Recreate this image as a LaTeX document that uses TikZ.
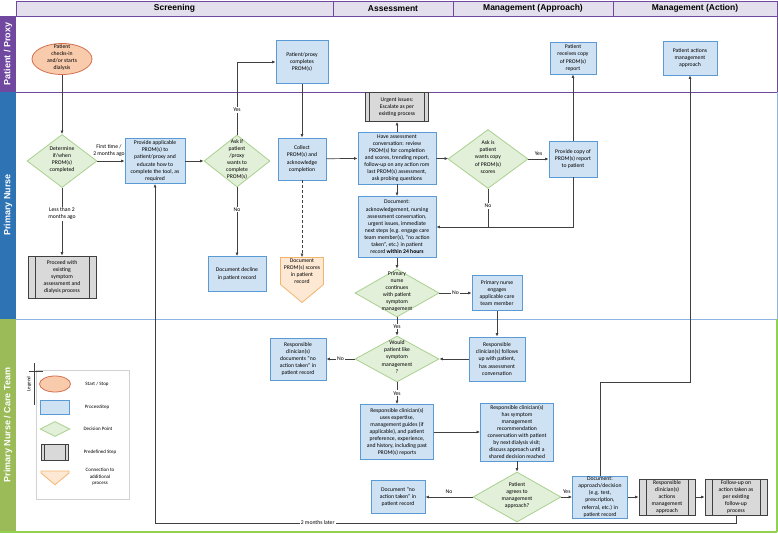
\documentclass[tikz,border=0pt]{standalone}
\usepackage{fontspec}
\setmainfont{Carlito}
\newfontfamily\lanefont{Liberation Sans}
\usetikzlibrary{shapes.geometric}
\usetikzlibrary{shapes.symbols}
\usetikzlibrary{arrows.meta}

\definecolor{procfill}{HTML}{CFE2F3}
\definecolor{procline}{HTML}{5B9BD5}
\definecolor{decfill}{HTML}{E2EFD9}
\definecolor{decline}{HTML}{A9D18E}
\definecolor{predfill}{HTML}{D9D9D9}
\definecolor{predline}{HTML}{404040}
\definecolor{termfill}{HTML}{F8CBAD}
\definecolor{termline}{HTML}{D5704F}
\definecolor{connfill}{HTML}{FDE9D3}
\definecolor{connline}{HTML}{F4B470}
\definecolor{headfill}{HTML}{E4DFEC}
\definecolor{purpleband}{HTML}{7048A0}
\definecolor{blueband}{HTML}{2E74B5}
\definecolor{greenband}{HTML}{9BBB59}
\definecolor{greenline}{HTML}{92D050}
\definecolor{blueline}{HTML}{8DB4E2}
\definecolor{arrowgray}{HTML}{404040}

\newcommand\dtext[1]{\smash{\begin{tabular}{@{}c@{}}#1\end{tabular}}}

\begin{document}
\begin{tikzpicture}[x=1pt,y=-1pt,
        font=\fontsize{5.7}{7.1}\selectfont,
        proc/.style={rectangle,draw=procline,fill=procfill,line width=0.8pt,align=center,inner sep=1pt},
        dec/.style={diamond,draw=decline,fill=decfill,line width=0.8pt,inner sep=0pt},
        predef/.style={rectangle,draw=predline,fill=predfill,line width=0.8pt,align=center,inner sep=1pt,
            path picture={\draw[predline,line width=0.8pt]
                ([xshift=#1]path picture bounding box.north west) -- ([xshift=#1]path picture bounding box.south west)
                ([xshift=-#1]path picture bounding box.north east) -- ([xshift=-#1]path picture bounding box.south east);}},
        predef/.default=6pt,
        term/.style={ellipse,draw=termline,fill=termfill,line width=0.8pt,inner sep=0pt},
        conn/.style={signal,signal to=south,signal pointer angle=100,draw=connline,fill=connfill,line width=0.8pt,align=center,inner sep=1pt},
        flow/.style={draw=arrowgray,line width=0.7pt,-{Latex[length=3.5pt,width=3pt]}},
        plain/.style={draw=arrowgray,line width=0.7pt},
        lbl/.style={fill=white,inner sep=1pt,align=center},
        head/.style={rectangle,draw=purpleband,fill=headfill,line width=0.8pt,minimum height=15,
            font=\lanefont\bfseries\fontsize{8.5}{10}\selectfont},
        lane/.style={text=white,rotate=90,inner sep=0pt,font=\lanefont\bfseries\fontsize{9}{10}\selectfont},
        legtext/.style={font=\fontsize{5}{6.5}\selectfont,align=center}
    ]

    \useasboundingbox (0,0) rectangle (778,534);
    \fill[white] (0,0) rectangle (778,534);

    % lanes
    \fill[purpleband] (0,16) rectangle (16,92);
    \fill[blueband] (0,92) rectangle (16,319);
    \fill[greenband] (0,319) rectangle (16,532);
    \node[lane] (lane1) at (8,54) {Patient / Proxy};
    \node[lane] (lane2) at (8,205) {Primary Nurse};
    \node[lane] (lane3) at (8,425) {Primary Nurse / Care Team};
    \draw[purpleband,line width=0.8pt] (16,92) -- (777,92) (777,16) -- (777,92);
    \draw[blueline,line width=0.8pt] (16,319) -- (777,319) (777,92) -- (777,319);
    \draw[greenline,line width=1.2pt] (0,532) -- (777,532) (777,319) -- (777,532);

    % phases
    \node[head,minimum width=317] (h1) at (174.5,8.5) {Screening};
    \node[head,minimum width=120] (h2) at (393,8.5) {Assessment};
    \node[head,minimum width=160] (h3) at (533,8.5) {Management (Approach)};
    \node[head,minimum width=164] (h4) at (695,8.5) {Management (Action)};

    % screening
    \node[term,minimum width=60,minimum height=31] (start) at (62,59) {\dtext{Patient\\checks-in\\and/or starts\\dialysis}};
    \node[dec,minimum width=70,minimum height=53] (d1) at (62,161) {\dtext{Determine\\if/when\\PROM(s)\\completed}};
    \node[predef=7pt,minimum width=68,minimum height=42] (pre1) at (62,277) {Proceed with\\existing\\symptom\\assessment and\\dialysis process};
    \node[proc,minimum width=60,minimum height=45] (p1) at (155,161) {Provide applicable\\PROM(s) to\\patient/proxy and\\educate how to\\complete the tool, as\\required};
    \node[dec,minimum width=66,minimum height=52] (d2) at (237,161) {\dtext{Ask if\\patient\\/proxy\\wants to\\complete\\PROM(s)}};
    \node[proc,minimum width=52,minimum height=43] (p2) at (302,62) {Patient/proxy\\completes\\PROM(s)};
    \node[proc,minimum width=58,minimum height=35] (decl) at (237,274) {Document decline\\in patient record};
    \node[proc,minimum width=48,minimum height=42] (p3) at (302,159) {Collect\\PROM(s) and\\acknowledge\\completion};
    \node[conn,minimum width=43] (conn) at (302,271) {Document\\PROM(s) scores\\in patient\\record};

    % assessment
    \node[predef=4pt,minimum width=63,minimum height=29] (pre2) at (397,107) {Urgent issues:\\Escalate as per\\existing process};
    \node[proc,minimum width=78,minimum height=52] (p4) at (397,158) {Have assessment\\conversation: review\\PROM(s) for completion\\and scores, trending report,\\follow-up on any action rom\\last PROM(s) assessment,\\ask probing questions};
    \node[proc,minimum width=78,minimum height=61] (p5) at (397,227) {Document:\\acknowledgement, nursing\\assessment conversation,\\urgent issues, immediate\\next steps (e.g. engage care\\team member(s), “no action\\taken”, etc.) in patient\\record \textbf{within 24 hours}};
    \node[dec,minimum width=80,minimum height=59] (d3) at (488,159) {\dtext{Ask is\\patient\\wants copy\\of PROM(s)\\scores}};
    \node[dec,minimum width=84,minimum height=48] (d4) at (397,293) {\dtext{Primary\\nurse\\continues\\with patient\\symptom\\management}};
    \node[proc,minimum width=50,minimum height=35] (p9) at (497,293) {Primary nurse\\engages\\applicable care\\team member};
    \node[dec,minimum width=84,minimum height=46] (d5) at (397,359) {\dtext{Would\\patient like\\symptom\\management\\?}};
    \node[proc,minimum width=56,minimum height=44] (p10) at (497,359) {Responsible\\clinician(s) follows\\up with patient,\\has assessment\\conversation};
    \node[proc,minimum width=56,minimum height=42] (p11) at (298,359) {Responsible\\clinician(s)\\documents “no\\action taken” in\\patient record};
    \node[proc,minimum width=73,minimum height=55] (p12) at (397,432) {Responsible clinician(s)\\uses expertise,\\management guides (if\\applicable), and patient\\preference, experience,\\and history, including past\\PROM(s) reports};
    \node[proc,minimum width=54,minimum height=33] (p14) at (398,497) {Document “no\\action taken” in\\patient record};

    % management (approach)
    \node[proc,minimum width=48,minimum height=36] (p6) at (573,159) {Provide copy of\\PROM(s) report\\to patient};
    \node[proc,minimum width=46,minimum height=32] (p7) at (573,58) {Patient\\receives copy\\of PROM(s)\\report};
    \node[proc,minimum width=73,minimum height=58] (p13) at (517,432) {Responsible clinician(s)\\has symptom\\management\\recommendation\\conversation with patient\\by next dialysis visit;\\discuss approach until a\\shared decision reached};
    \node[dec,minimum width=88,minimum height=50] (d6) at (517,497) {\dtext{Patient\\agrees to\\management\\approach?}};
    \node[proc,minimum width=55,minimum height=42] (p15) at (600,497) {Document:\\approach/decision\\(e.g. test,\\prescription,\\referral, etc.) in\\patient record};

    % management (action)
    \node[proc,minimum width=54,minimum height=34] (p8) at (690,58) {Patient actions\\management\\approach};
    \node[predef=7pt,minimum width=56,minimum height=36] (pre3) at (667,497) {Responsible\\clinician(s)\\actions\\management\\approach};
    \node[predef=7pt,minimum width=62,minimum height=36] (pre4) at (736,497) {Follow-up on\\action taken as\\per existing\\follow-up\\process};

    % legend
    \node[draw=gray!35,line width=0.6pt,minimum width=93,minimum height=129] (legend) at (82.5,434.5) {};
    \node[legtext,rotate=90] (legendt) at (29,384) {Legend};
    \draw[arrowgray,line width=0.5pt] (34,363) -- (34,405) (29,371) -- (43,371);
    \node[term,minimum width=31,minimum height=16] (lg1) at (55,384) {};
    \node[legtext] (lt1) at (97,384) {Start / Stop};
    \node[proc,minimum width=29,minimum height=14] (lg2) at (55,407) {};
    \node[legtext] (lt2) at (97,407) {ProcessStep};
    \node[dec,minimum width=30,minimum height=15] (lg3) at (55,429) {};
    \node[legtext] (lt3) at (98,429) {Decision Point};
    \node[predef=3pt,minimum width=27,minimum height=16] (lg4) at (55,452) {};
    \node[legtext] (lt4) at (100,452) {Predefined Step};
    \node[conn,minimum width=28] (lg5) at (55,472) {};
    \node[legtext] (lt5) at (100,477) {Connection to\\additional\\process};

    % connectors
    \draw[flow] (start) -- (d1);
    \draw[flow] (d1) -- node[above=1pt,xshift=-2pt,align=center] {First time /\\2 months ago} (p1);
    \draw[flow] (d1) -- node[lbl,pos=0.38] {Less than 2\\months ago} (pre1);
    \draw[flow] (p1) -- (d2);
    \draw[flow] (d2.north) |- node[lbl,pos=0.17] {Yes} (p2.west);
    \draw[flow] (d2) -- node[lbl,pos=0.32] {No} (decl);
    \draw[flow] (p2) -- (p3);
    \draw[flow] (p3) -- (p4);
    \draw[flow,densely dashed,line width=0.5pt] (p3) -- (conn);
    \draw[flow] (p4) -- (pre2);
    \draw[flow] (p4) -- (p5);
    \draw[flow] (p4) -- (d3);
    \draw[flow] (d3) -- node[above] {Yes} (p6);
    \draw[flow] (p6) -- (p7);
    \draw[flow] (p6.south) |- (p5.east);
    \coordinate (nojoin) at (d3.south |- p5.east);
    \draw[plain] (d3.south) -- node[lbl,pos=0.45] {No} (nojoin);
    \draw[flow] (p5) -- (d4);
    \draw[flow] (d4) -- node[lbl] {No} (p9);
    \draw[flow] (d4) -- node[lbl] {Yes} (d5);
    \draw[flow] (p9) -- (p10);
    \draw[flow] (p10) -- (d5);
    \draw[flow] (d5) -- node[lbl] {No} (p11);
    \draw[flow] (d5) -- node[lbl] {Yes} (p12);
    \draw[flow] (p12) -- (p13);
    \draw[flow] (p13) -- (d6);
    \draw[flow] (d6) -- node[above] {No} (p14);
    \draw[flow] (d6) -- node[above] {Yes} (p15);
    \draw[flow] (p15) -- (pre3);
    \draw[flow] (pre3) -- (pre4);
    \coordinate (turn) at (690,382);
    \draw[flow] (p15.north) |- (turn) -- (p8);
    \coordinate (back) at (155,523);
    \draw[flow,line width=0.6pt] (pre4.south) |- node[lbl,pos=0.86] {2 months later} (back) -- (p1);
\end{tikzpicture}
\end{document}
